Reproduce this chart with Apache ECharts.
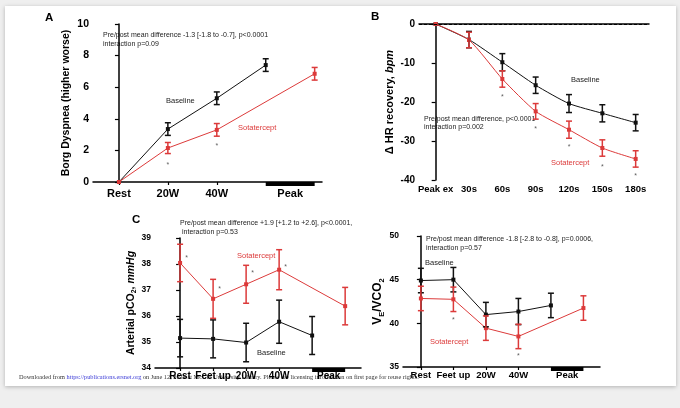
<!DOCTYPE html>
<html>
<head>
<meta charset="utf-8">
<script src="https://cdn.jsdelivr.net/npm/echarts@6/dist/echarts.min.js"></script>
<style>
html, body { margin: 0; padding: 0; background: #efefef; }
#card { position: absolute; left: 5px; top: 6px; width: 671px; height: 380px; background: #fff; box-shadow: 0 1px 4px rgba(0,0,0,.25); }
#main { position: absolute; left: 0; top: 0; width: 680px; height: 408px; }
</style>
</head>
<body>
<div id="card"></div>
<div id="main"></div>
<script>
// Panel A - Borg dyspnea
var aCats = ['Rest', '20W', '40W', 'Peak'];
var aBase = [0, 3.35, 5.3, 7.4];
var aBaseErr = [0, 0.4, 0.4, 0.4];
var aSota = [0, 2.15, 3.3, 6.85];
var aSotaErr = [0, 0.35, 0.4, 0.4];
var aStars = [[1, 1.05], [2, 2.3]];

// Panel B - HR recovery
var bCats = ['Peak ex', '30s', '60s', '90s', '120s', '150s', '180s'];
var bBase = [0, -4, -9.8, -15.7, -20.4, -22.9, -25.3];
var bBaseErr = [0, 2.1, 2.2, 2.1, 2.3, 2.2, 2.1];
var bSota = [0, -4.1, -14.1, -22.4, -27.1, -31.8, -34.6];
var bSotaErr = [0, 2, 2.1, 2, 2.2, 2.1, 2.1];
var bStars = [[2, -18.8], [3, -27], [4, -31.5], [5, -36.6], [6, -39]];

// Panel C - arterial pCO2
var cCats = ['Rest', 'Feet up', '20W', '40W', 'Peak'];
var cBase = [35.15, 35.12, 34.98, 35.78, 35.25];
var cBaseErr = [0.72, 0.73, 0.74, 0.83, 0.73];
var cSota = [38.04, 36.66, 37.22, 37.78, 36.38];
var cSotaErr = [0.72, 0.75, 0.73, 0.77, 0.72];
var cStars = [[0.2, 38.23], [1.2, 37.03], [2.2, 37.64], [3.2, 37.87]];

// Panel D - VE/VCO2
var dCats = ['Rest', 'Feet up', '20W', '40W', 'Peak'];
var dBase = [44.9, 45.0, 41.0, 41.35, 42.05];
var dBaseErr = [1.4, 1.4, 1.4, 1.5, 1.4];
var dSota = [42.85, 42.75, 39.45, 38.5, 41.75];
var dSotaErr = [1.4, 1.4, 1.4, 1.4, 1.4];
var dStars = [[1, 40.4], [3, 36.2]];

var font = 'Liberation Sans, Arial, sans-serif';
var black = '#111';
var red = '#dc3a3a';

// peak of sotatercept sits one slot to the right of baseline peak
function pts(vals, shiftPeak) {
    return vals.map(function (v, i) {
        return [(shiftPeak && i === vals.length - 1) ? i + 1 : i, v];
    });
}
function errs(vals, e, shiftPeak) {
    var out = [];
    pts(vals, shiftPeak).forEach(function (p, i) {
        if (e[i] > 0) out.push([p[0], p[1], e[i]]);
    });
    return out;
}

function lineSeries(g, name, data, color) {
    return {
        name: name, type: 'line', xAxisIndex: g, yAxisIndex: g,
        data: data, symbol: 'rect', symbolSize: 4, z: 3,
        lineStyle: { color: color, width: 1 }, itemStyle: { color: color }
    };
}
function errSeries(g, data, color) {
    return {
        type: 'custom', xAxisIndex: g, yAxisIndex: g, data: data, z: 4,
        renderItem: function (params, api) {
            var x = api.value(0), y = api.value(1), e = api.value(2);
            var t = api.coord([x, y + e]), b = api.coord([x, y - e]);
            var w = 3;
            var st = { stroke: color, lineWidth: 1.5 };
            return {
                type: 'group', children: [
                    { type: 'line', shape: { x1: t[0], y1: t[1], x2: b[0], y2: b[1] }, style: st },
                    { type: 'line', shape: { x1: t[0] - w, y1: t[1], x2: t[0] + w, y2: t[1] }, style: st },
                    { type: 'line', shape: { x1: b[0] - w, y1: b[1], x2: b[0] + w, y2: b[1] }, style: st }
                ]
            };
        }
    };
}
function starSeries(g, data) {
    return {
        type: 'scatter', xAxisIndex: g, yAxisIndex: g, data: data, symbolSize: 0,
        label: { show: true, formatter: '*', position: 'inside', color: '#333', fontSize: 7, fontFamily: font }
    };
}
function peakBar(g, from, to, ymin) {
    return {
        type: 'custom', xAxisIndex: g, yAxisIndex: g, data: [[from, to]], clip: false, z: 5,
        renderItem: function (params, api) {
            var a = api.coord([api.value(0), ymin]), b = api.coord([api.value(1), ymin]);
            return { type: 'rect', shape: { x: a[0], y: a[1], width: b[0] - a[0], height: 4 }, style: { fill: '#000' } };
        }
    };
}

function xAxis(g, cats, min, max, labelVals, tickVals, fs, margin) {
    return {
        type: 'value', gridIndex: g, min: min, max: max,
        axisLine: { show: true, lineStyle: { color: '#000', width: 1.5 } },
        axisTick: { show: true, customValues: tickVals, length: 3, lineStyle: { color: '#000', width: 1.2 } },
        splitLine: { show: false },
        axisLabel: {
            customValues: labelVals, margin: margin, color: '#000', fontWeight: 'bold', fontSize: fs, fontFamily: font,
            formatter: function (v) { return cats[labelVals.indexOf(v)]; }
        }
    };
}
function yAxis(g, min, max, interval, name, gap, fs, nfs, rich) {
    return {
        type: 'value', gridIndex: g, min: min, max: max, interval: interval,
        name: name, nameLocation: 'middle', nameGap: gap,
        nameTextStyle: { color: '#000', fontWeight: 'bold', fontSize: nfs, fontFamily: font, rich: rich || {} },
        axisLine: { show: true, lineStyle: { color: '#000', width: 1.5 } },
        axisTick: { show: true, length: 4, lineStyle: { color: '#000', width: 1.2 } },
        splitLine: { show: false },
        axisLabel: { color: '#000', fontWeight: 'bold', fontSize: fs, fontFamily: font, margin: 4 }
    };
}

function txt(x, y, s, color, fs, extra) {
    var o = { type: 'text', left: x, top: y, style: { text: s, fill: color || '#222', fontSize: fs || 7, fontFamily: font } };
    if (extra) for (var k in extra) o.style[k] = extra[k];
    return o;
}

var nLast = aCats.length - 1;
var peakLabelA = [0, 1, 2, nLast + 0.5];
var peakLabelC = [0, 1, 2, 3, cCats.length - 1 + 0.5];

var option = {
    animation: false,
    grid: [
        { left: 93, top: 24, width: 229, height: 158 },
        { left: 419, top: 24, width: 230, height: 156 },
        { left: 155, top: 238, width: 206, height: 130 },
        { left: 403, top: 236, width: 197, height: 131 }
    ],
    xAxis: [
        xAxis(0, aCats, -0.53, 4.15, peakLabelA, [0, 1, 2], 11, 6),
        xAxis(1, bCats, -0.5, 6.4, [0, 1, 2, 3, 4, 5, 6], [], 9.5, 4),
        xAxis(2, cCats, -0.76, 5.48, peakLabelC, [0, 1, 2, 3], 10, 3),
        xAxis(3, dCats, -0.55, 5.51, peakLabelC, [0, 1, 2, 3], 9.5, 3)
    ],
    yAxis: [
        yAxis(0, 0, 10, 2, 'Borg Dyspnea (higher worse)', 21, 10.5, 10.5),
        yAxis(1, -40, 0, 10, 'Δ HR recovery, {i|bpm}', 24, 10, 11,
            { i: { fontStyle: 'italic', fontWeight: 'bold', fontSize: 11, fontFamily: font } }),
        yAxis(2, 34, 39, 1, 'Arterial pCO{s|2}, {i|mmHg}', 15, 8.5, 10.5,
            { s: { fontSize: 7, fontWeight: 'bold', verticalAlign: 'bottom', lineHeight: 14 },
              i: { fontStyle: 'italic', fontWeight: 'bold', fontSize: 10.5 } }),
        yAxis(3, 35, 50, 5, '{m|V}{s|E}{m|/VCO}{s|2}', 16, 8.5, 12,
            { m: { fontSize: 12, fontWeight: 'bold', lineHeight: 16, fontFamily: font },
              s: { fontSize: 7.5, fontWeight: 'bold', lineHeight: 16, verticalAlign: 'bottom', fontFamily: font } })
    ],
    series: [
        // A
        lineSeries(0, 'Baseline', pts(aBase, false), black),
        lineSeries(0, 'Sotatercept', pts(aSota, true), red),
        errSeries(0, errs(aBase, aBaseErr, false), black),
        errSeries(0, errs(aSota, aSotaErr, true), red),
        starSeries(0, aStars),
        peakBar(0, nLast, nLast + 1, 0),
        // B
        (function () {
            var s = lineSeries(1, 'Baseline', pts(bBase, false), black);
            s.smooth = 0.2;
            s.markLine = {
                silent: true, symbol: 'none', label: { show: false },
                lineStyle: { color: '#000', type: [3, 2], width: 1.2 },
                data: [{ yAxis: 0 }]
            };
            return s;
        })(),
        (function () { var s = lineSeries(1, 'Sotatercept', pts(bSota, false), red); s.smooth = 0.2; return s; })(),
        errSeries(1, errs(bBase, bBaseErr, false), black),
        errSeries(1, errs(bSota, bSotaErr, false), red),
        starSeries(1, bStars),
        // C
        lineSeries(2, 'Baseline', pts(cBase, false), black),
        lineSeries(2, 'Sotatercept', pts(cSota, true), red),
        errSeries(2, errs(cBase, cBaseErr, false), black),
        errSeries(2, errs(cSota, cSotaErr, true), red),
        starSeries(2, cStars),
        peakBar(2, cCats.length - 1, cCats.length, 34),
        // D
        lineSeries(3, 'Baseline', pts(dBase, false), black),
        lineSeries(3, 'Sotatercept', pts(dSota, true), red),
        errSeries(3, errs(dBase, dBaseErr, false), black),
        errSeries(3, errs(dSota, dSotaErr, true), red),
        starSeries(3, dStars),
        peakBar(3, dCats.length - 1, dCats.length, 35)
    ],
    graphic: [
        txt(45, 12, 'A', '#000', 11.5, { fontWeight: 'bold' }),
        txt(371, 11, 'B', '#000', 11.5, { fontWeight: 'bold' }),
        txt(132, 214, 'C', '#000', 11.5, { fontWeight: 'bold' }),
        txt(103, 32, 'Pre/post mean difference -1.3 [-1.8 to -0.7], p<0.0001', '#222', 7),
        txt(103, 41, 'interaction p=0.09', '#222', 7),
        txt(166, 97, 'Baseline', '#222', 7.5),
        txt(238, 124, 'Sotatercept', red, 7.5),
        txt(424, 116, 'Pre/post mean difference, p<0.0001', '#222', 7),
        txt(424, 124, 'interaction p=0.002', '#222', 7),
        txt(571, 76, 'Baseline', '#222', 7.5),
        txt(551, 159, 'Sotatercept', red, 7.5),
        txt(180, 220, 'Pre/post mean difference +1.9 [+1.2 to +2.6], p<0.0001,', '#222', 7),
        txt(182, 229, 'interaction p=0.53', '#222', 7),
        txt(237, 252, 'Sotatercept', red, 7.5),
        txt(257, 349, 'Baseline', '#222', 7.5),
        txt(426, 236, 'Pre/post mean difference -1.8 [-2.8 to -0.8], p=0.0006,', '#222', 7),
        txt(426, 245, 'interaction p=0.57', '#222', 7),
        txt(425, 259, 'Baseline', '#222', 7.5),
        txt(430, 338, 'Sotatercept', red, 7.5),
        {
            type: 'text', left: 19, top: 374, z: -1,
            style: {
                text: 'Downloaded from {u|https://publications.ersnet.org} on June 12, 2024 at McGill University Library. Please see licensing information on first page for reuse rights.',
                fill: '#333', fontSize: 6.3, fontFamily: 'Liberation Serif, Times New Roman, serif',
                rich: { u: { fill: '#3b3bd6', fontSize: 6.3, fontFamily: 'Liberation Serif, Times New Roman, serif' } }
            }
        }
    ]
};

var myChart = echarts.init(document.getElementById('main'));
myChart.setOption(option);
</script>
</body>
</html>
